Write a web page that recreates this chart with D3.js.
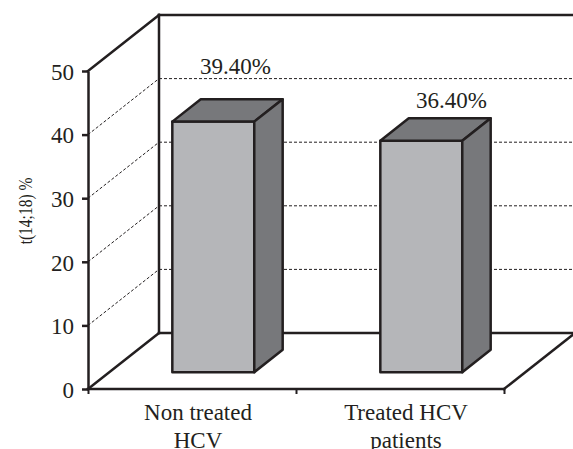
<!DOCTYPE html>
<html>
<head>
<meta charset="utf-8">
<script src="https://cdn.jsdelivr.net/npm/d3@7"></script>
<style>
  body { margin: 0; background: #fff; }
  text { font-family: "Liberation Serif", "Times New Roman", serif; fill: #231f20; }
</style>
</head>
<body>
<script>
// data
var categories = [["Non treated", "HCV"], ["Treated HCV", "patients"]];
var values = [39.4, 36.4];
var valueLabels = ["39.40%", "36.40%"];
var yTicks = [0, 10, 20, 30, 40, 50];
var yTitle = "t(14;18) %";

// layout
var W = 573, H = 449;
var DX = 71, DY = 56;          // depth offset of the back wall
var Z0 = 0.3, Z1 = 0.7;        // bar front / back depth
var labelNudge = [[8, -25], [16, -10]];
var INK = "#231f20";
var SERIF = "Liberation Serif, Times New Roman, serif";

var svg = d3.select("body").append("svg")
    .attr("width", W)
    .attr("height", H);

var y = d3.scaleLinear().domain([0, 50]).range([389, 71]);
var x = d3.scaleBand().domain(d3.range(categories.length)).range([88, 504]);
var barW = x.bandwidth() * 0.394;

function px(xv, z) { return xv + z * DX; }
function py(yv, z) { return yv - z * DY; }

var x0 = x.range()[0], x1 = x.range()[1];

// back wall gridlines (dashed)
var grid = yTicks.filter(function (t) { return t > 0 && t < 50; });
svg.selectAll(".hgrid").data(grid).enter().append("line")
    .attr("x1", px(x0, 1)).attr("x2", px(x1, 1))
    .attr("y1", function (d) { return py(y(d), 1); })
    .attr("y2", function (d) { return py(y(d), 1); })
    .attr("stroke", INK).attr("stroke-width", 1).attr("stroke-dasharray", "3,2");
svg.selectAll(".dgrid").data(grid).enter().append("line")
    .attr("x1", x0).attr("y1", function (d) { return y(d); })
    .attr("x2", px(x0, 1)).attr("y2", function (d) { return py(y(d), 1); })
    .attr("stroke", INK).attr("stroke-width", 1).attr("stroke-dasharray", "3,2");

// walls and floor outline
var edges = [
    [[x0, y(50), 0], [x0, y(50), 1]],
    [[x0, y(50), 1], [x1, y(50), 1]],
    [[x0, y(50), 1], [x0, y(0), 1]],
    [[x0, y(0), 1], [x1, y(0), 1]],
    [[x0, y(0), 0], [x0, y(0), 1]],
    [[x1, y(0), 0], [x1, y(0), 1]],
    [[x0, y(0), 0], [x1, y(0), 0]]
];
svg.selectAll(".edge").data(edges).enter().append("line")
    .attr("x1", function (d) { return px(d[0][0], d[0][2]); })
    .attr("y1", function (d) { return py(d[0][1], d[0][2]); })
    .attr("x2", function (d) { return px(d[1][0], d[1][2]); })
    .attr("y2", function (d) { return py(d[1][1], d[1][2]); })
    .attr("stroke", INK).attr("stroke-width", 2.5).attr("stroke-linecap", "square");

// y axis
var yAxis = svg.append("g")
    .attr("transform", "translate(" + x0 + ",0)")
    .call(d3.axisLeft(y).tickValues(yTicks).tickSize(6).tickSizeOuter(0).tickPadding(8))
    .attr("font-family", SERIF).attr("font-size", 23);
yAxis.select(".domain").attr("stroke", INK).attr("stroke-width", 2.5);
yAxis.selectAll(".tick line").attr("stroke", INK).attr("stroke-width", 2.5);
yAxis.selectAll(".tick text")
    .style("font-family", SERIF).style("font-size", "23px")
    .attr("fill", INK).attr("dy", "0.36em");

// x axis ticks at band boundaries
var xb = d3.scaleLinear().domain([0, categories.length]).range([x0, x1]);
var xAxis = svg.append("g")
    .attr("transform", "translate(0," + y(0) + ")")
    .call(d3.axisBottom(xb).tickValues(d3.range(categories.length + 1)).tickFormat("").tickSize(5).tickSizeOuter(0));
xAxis.select(".domain").remove();
xAxis.selectAll(".tick line").attr("stroke", INK).attr("stroke-width", 2);

// bars
function poly(pts) {
    return pts.map(function (p) { return px(p[0], p[2]) + "," + py(p[1], p[2]); }).join(" ");
}
var bars = svg.selectAll(".bar").data(values).enter().append("g").attr("class", "bar");
bars.each(function (v, i) {
    var g = d3.select(this);
    var a = x(i) + (x.bandwidth() - barW) / 2, b = a + barW;
    var top = y(v), bot = y(0);
    g.append("polygon")
        .attr("points", poly([[a, top, Z0], [b, top, Z0], [b, bot, Z0], [a, bot, Z0]]))
        .attr("fill", "#b5b6b9");
    g.append("polygon")
        .attr("points", poly([[a, top, Z0], [b, top, Z0], [b, top, Z1], [a, top, Z1]]))
        .attr("fill", "#77787b");
    g.append("polygon")
        .attr("points", poly([[b, top, Z0], [b, bot, Z0], [b, bot, Z1], [b, top, Z1]]))
        .attr("fill", "#77787b");
    g.selectAll("polygon").attr("stroke", INK).attr("stroke-width", 2.5).attr("stroke-linejoin", "round");
});

// value labels
svg.selectAll(".vlabel").data(values).enter().append("text")
    .attr("text-anchor", "middle")
    .attr("x", function (d, i) { return px(x(i) + x.bandwidth() / 2, (Z0 + Z1) / 2) + labelNudge[i][0]; })
    .attr("y", function (d, i) { return py(y(d), Z1) + labelNudge[i][1]; })
    .style("font-size", "23px")
    .text(function (d, i) { return valueLabels[i]; });

// category labels
var cat = svg.selectAll(".cat").data(categories).enter().append("text")
    .attr("text-anchor", "middle")
    .style("font-size", "23px");
cat.each(function (lines, i) {
    var t = d3.select(this);
    lines.forEach(function (s, k) {
        t.append("tspan")
            .attr("x", x(i) + x.bandwidth() / 2 + 6)
            .attr("y", 420 + k * 28)
            .text(s);
    });
});

// y title
svg.append("text")
    .attr("transform", "translate(32,211) rotate(-90) scale(1,1.2)")
    .attr("text-anchor", "middle")
    .style("font-size", "15.5px")
    .text(yTitle);
</script>
</body>
</html>
